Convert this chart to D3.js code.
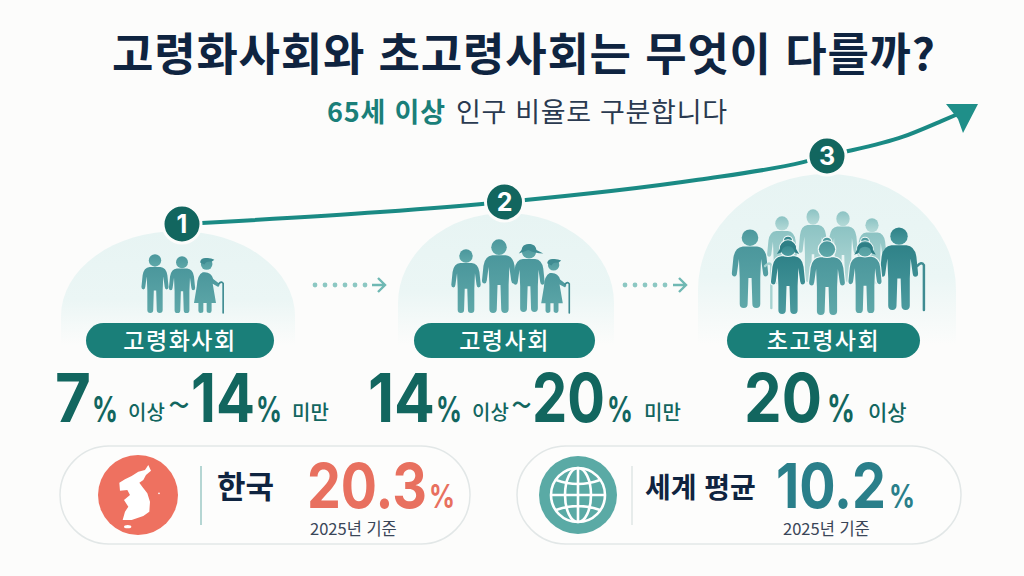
<!DOCTYPE html>
<html lang="ko">
<head>
<meta charset="utf-8">
<script src="https://cdn.jsdelivr.net/npm/d3@7/dist/d3.min.js"></script>
<style>
html, body { margin: 0; padding: 0; background: #fcfcfb; }
svg { display: block; }
text { font-family: "Noto Sans CJK KR", "Noto Sans", sans-serif; }
text.num { font-family: Inter, "Noto Sans", sans-serif; }
</style>
</head>
<body>
<div id="chart"></div>
<script>
// data
const stageNames = ['고령화사회', '고령사회', '초고령사회'];
const stageLower = [7, 14, 20];
const stageUpper = [14, 20, null];
const regionNames = ['한국', '세계 평균'];
const regionValues = [20.3, 10.2];
const baseYears = [2025, 2025];
const trendStage = [0, 0.614, 1, 1.6, 1.926, 2, 2.236, 2.36, 2.406];
const trendLevel = [7, 10.8, 14, 16.9, 19.2, 20, 22.6, 24.8, 25.65];

const navy = '#0f2440', teal = '#1a7f79', deep = '#12665f';

const svg = d3.select('#chart').append('svg').attr('width', 1024).attr('height', 576);
svg.append('rect').attr('width', 1024).attr('height', 576).attr('fill', '#fcfcfb');

// Escalas
const xStage = d3.scaleLinear().domain([0, 2]).range([182, 827]);
const yLevel = d3.scaleLinear().domain([7, 14, 20, 27]).range([224, 202, 156, 104]);

// squeeze a text to a given width so its box really ends there
function fitText(t, x, y, len) {
    const natural = t.node().getComputedTextLength();
    t.attr('transform', `translate(${x},${y}) scale(${len / natural},1)`);
}

const defs = svg.append('defs');
const domeGrad = defs.append('linearGradient').attr('id', 'dome').attr('x1', 0).attr('x2', 0).attr('y1', 0).attr('y2', 1);
domeGrad.append('stop').attr('offset', '0%').attr('stop-color', '#e7f4f3');
domeGrad.append('stop').attr('offset', '60%').attr('stop-color', '#ebf6f5');
domeGrad.append('stop').attr('offset', '100%').attr('stop-color', '#fcfcfb');
[['fig', '#4b979c', '#5fa8a9'], ['figDark', '#2f8288', '#4a9a9e'], ['figBack', '#8cc3c3', '#b5dad8']].forEach(c => {
    const g = defs.append('linearGradient').attr('id', c[0]).attr('x1', 0).attr('x2', 0).attr('y1', 0).attr('y2', 1);
    g.append('stop').attr('offset', '0%').attr('stop-color', c[1]);
    g.append('stop').attr('offset', '100%').attr('stop-color', c[2]);
});

// Title
svg.append('text').attr('x', 112).attr('y', 71)
    .attr('font-size', 45).attr('font-weight', 700).attr('fill', navy)
    .attr('textLength', 823).text('고령화사회와 초고령사회는 무엇이 다를까?');
svg.append('text').attr('x', 327).attr('y', 122).attr('font-size', 27).attr('font-weight', 700)
    .attr('fill', teal).attr('textLength', 118).text('65세 이상');
svg.append('text').attr('x', 456).attr('y', 122).attr('font-size', 27).attr('fill', '#2a3a50')
    .attr('textLength', 271).text('인구 비율로 구분합니다');

// Domes
const domes = [
    {x0: 61, x1: 295, top: 231, edge: 316, bottom: 345},
    {x0: 398, x1: 614, top: 213, edge: 303, bottom: 345},
    {x0: 698, x1: 956, top: 174, edge: 290, bottom: 345}
];
svg.selectAll('.dome').data(domes).enter().append('path')
    .attr('class', 'dome')
    .attr('fill', 'url(#dome)')
    .attr('d', d => {
        const rx = (d.x1 - d.x0) / 2, ry = d.edge - d.top;
        return `M${d.x0},${d.bottom} V${d.edge} A${rx},${ry} 0 0 1 ${d.x1},${d.edge} V${d.bottom} Z`;
    });

// Trend line
const trendLine = d3.line()
    .x((d, i) => xStage(d))
    .y((d, i) => yLevel(trendLevel[i]))
    .curve(d3.curveMonotoneX);
svg.append('path').attr('d', trendLine(trendStage)).attr('fill', 'none')
    .attr('stroke', '#1a8a84').attr('stroke-width', 4);
svg.append('path').attr('d', 'M978,104 L946,104 L958,119 L963,133 Z').attr('fill', '#1f8f89');

// Figures
const manPath = 'M-9 22 H9 Q19 23 21 36 L23 56 Q23 60 19.5 60 Q17 60 16.5 56 L14 38 L13 62 L13 95 Q13 100 8 100 Q3 100 3 95 L2 62 H-2 L-3 95 Q-3 100 -8 100 Q-13 100 -13 95 L-13 62 L-14 38 L-16.5 56 Q-17 60 -19.5 60 Q-23 60 -23 56 L-21 36 Q-19 23 -9 22 Z';
const womanPath = 'M-4 26 Q11 24 15 38 L25 46 Q28 49 25 52 Q23 53 21 51 L14 47 L20 82 H-20 L-15 52 Q-14 30 -4 26 Z M-12 82 H-3 L-3 96 Q-3 100 -8 100 Q-12 100 -12 96 Z M3 82 H12 L12 96 Q12 100 8 100 Q3 100 3 96 Z';

function drawFigure(d) {
    const s = (d.feet - d.top) / 100;
    const g = svg.append('g')
        .attr('transform', `translate(${d.x},${d.top}) scale(${s * (d.wide || 1)},${s})`)
        .attr('fill', `url(#${d.tone || 'fig'})`);
    if (d.halo) g.attr('stroke', '#f1f8f7').attr('stroke-width', 3).style('paint-order', 'stroke');
    if (d.kind === 'bun') g.append('circle').attr('cx', 0).attr('cy', 1).attr('r', 5.5);
    g.append('path').attr('d', d.kind === 'bent' ? womanPath : manPath);
    g.append('circle').attr('cx', d.kind === 'bent' ? 3 : 0).attr('cy', 11).attr('r', 10.5);
    if (d.kind === 'bent') {
        g.append('path').attr('d', 'M-9 8 Q-8 -1 4 0 Q12 0 17 3 L12 7 Q2 5 -1 12 Z').attr('fill', '#3f8c92');
    }
    if (d.kind === 'hat') {
        g.append('path').attr('d', 'M-11 9 Q-10 -1 2 0 Q10 1 11 9 L21 14 Q8 14 -1 9 L-15 14 Z').attr('fill', '#3f8c92');
    }
    if (d.hair) {
        g.append('path').attr('d', 'M-11 12 Q-11 2 0 2 Q11 2 11 12 L15 19 L9 17 Q8 8 0 8 Q-8 8 -9 17 L-15 19 Z')
            .attr('fill', '#2f7f86').attr('stroke', 'none');
    }
    if (d.cane) {
        g.append('path').attr('d', `M${d.cane - 5} 47 Q${d.cane} 41 ${d.cane + 3} 46 V100`)
            .attr('fill', 'none').attr('stroke', d.caneColor || '#3f8c92')
            .attr('stroke-width', 3).attr('stroke-linecap', 'round');
    }
}

const figures = [
    {x: 155, top: 254, feet: 313},
    {x: 182, top: 256, feet: 313},
    {x: 205, top: 258, feet: 313, kind: 'bent', cane: 30},
    {x: 466, top: 249, feet: 313},
    {x: 499, top: 239, feet: 313},
    {x: 529, top: 244, feet: 312, kind: 'hat'},
    {x: 552, top: 259, feet: 313, kind: 'bent', cane: 29},
    {x: 782, top: 216, feet: 284, tone: 'figBack', wide: 0.95},
    {x: 872, top: 218, feet: 284, tone: 'figBack', wide: 0.95},
    {x: 813, top: 209, feet: 282, tone: 'figBack', wide: 0.85},
    {x: 843, top: 211, feet: 282, tone: 'figBack', wide: 0.9},
    {x: 750, top: 229, feet: 308, cane: 24, caneColor: '#a5d2d0'},
    {x: 899, top: 227, feet: 310, tone: 'figDark', cane: 27},
    {x: 788, top: 240, feet: 314, kind: 'bun', hair: true, tone: 'figDark', halo: true},
    {x: 827, top: 241, feet: 315, kind: 'bun', halo: true, wide: 1.05},
    {x: 865, top: 241, feet: 313, kind: 'bun', hair: true, halo: true}
];
figures.forEach(drawFigure);

// Number badges
const badge = svg.selectAll('.badge').data(stageNames).enter().append('g').attr('class', 'badge')
    .attr('transform', (d, i) => `translate(${xStage(i)},${yLevel(stageLower[i])})`);
badge.append('circle').attr('r', 19).attr('fill', deep).attr('stroke', '#fcfcfb').attr('stroke-width', 3);
badge.append('text').attr('class', 'num').attr('text-anchor', 'middle').attr('y', 9).attr('font-size', 25)
    .attr('font-weight', 700).attr('fill', '#fff').text((d, i) => i + 1);

// Dotted arrows
[[315, 385], [625, 686]].forEach(a => {
    svg.append('g').selectAll('circle').data(d3.range(a[0], a[1] - 17, 10)).enter().append('circle')
        .attr('cx', d => d).attr('cy', 285).attr('r', 2.4).attr('fill', '#8cc8c3');
    svg.append('path').attr('d', `M${a[1] - 13},285 H${a[1]} M${a[1] - 7},278 L${a[1]},285 L${a[1] - 7},292`)
        .attr('fill', 'none').attr('stroke', '#6fb8b3').attr('stroke-width', 2.4);
});

// Pills
const pills = [[86, 274], [414, 595], [727, 920]];
stageNames.forEach((name, i) => {
    const p = pills[i];
    svg.append('rect').attr('x', p[0]).attr('y', 323).attr('width', p[1] - p[0]).attr('height', 35)
        .attr('rx', 17.5).attr('fill', teal);
    svg.append('text').attr('x', (p[0] + p[1]) / 2).attr('y', 349).attr('text-anchor', 'middle')
        .attr('font-size', 23).attr('font-weight', 500).attr('letter-spacing', 1.5).attr('fill', '#fff').text(name);
});

// Thresholds
function part(x, str, size, weight, len, isNum) {
    const y = isNum ? 422 : 420;
    const t = svg.append('text').attr('class', isNum ? 'num' : null).attr('font-size', size)
        .attr('font-weight', weight).attr('fill', deep).text(str);
    if (len) fitText(t, x, y, len);
    else t.attr('x', x).attr('y', y);
}
const big = 68, pct = 36, small = 20;
part(55, stageLower[0], big, 700, 36, true);
part(92, '%', pct, 700, 26, true);
part(128, '이상', small, 500);
part(168, '~', 40, 400, 22);
part(191, stageUpper[0], big, 700, 64, true);
part(256, '%', pct, 700, 26, true);
part(292, '미만', small, 500);
part(368, stageLower[1], big, 700, 67, true);
part(436, '%', pct, 700, 26, true);
part(472, '이상', small, 500);
part(511, '~', 40, 400, 21);
part(532, stageUpper[1], big, 700, 73, true);
part(607, '%', pct, 700, 26, true);
part(644, '미만', small, 500);
part(744, stageLower[2], big, 700, 78, true);
part(827, '%', 38, 700, 28, true);
part(868, '이상', 21, 500);

// Bottom cards
const cards = [
    {x0: 60, x1: 470, cx: 138, r: 40, fill: '#ee7160', div: 201, divColor: '#9cc9c6', nameX: 217, nameSize: 31, valX: 307, valColor: '#e8705f', pctX: 429, yearX: 310},
    {x0: 517, x1: 961, cx: 578, r: 39, fill: '#5aaaa5', div: 632, divColor: '#dfe6e6', nameX: 645, nameSize: 28, valX: 776, valColor: '#2a7f8a', pctX: 889, yearX: 783}
];
const valWidths = [120, 110];
cards.forEach((c, i) => {
    svg.append('rect').attr('x', c.x0).attr('y', 446).attr('width', c.x1 - c.x0).attr('height', 98)
        .attr('rx', 49).attr('fill', '#fdfdfc').attr('stroke', '#e2e7e7').attr('stroke-width', 1.5);
    svg.append('circle').attr('cx', c.cx).attr('cy', 495).attr('r', c.r).attr('fill', c.fill);
    svg.append('line').attr('x1', c.div).attr('x2', c.div).attr('y1', 466).attr('y2', 525)
        .attr('stroke', c.divColor).attr('stroke-width', 1.5);
    svg.append('text').attr('x', c.nameX).attr('y', 498).attr('font-size', c.nameSize)
        .attr('font-weight', 700).attr('fill', navy).text(regionNames[i]);
    const val = svg.append('text').attr('class', 'num').attr('font-size', 62).attr('font-weight', 700)
        .attr('fill', c.valColor).text(regionValues[i].toFixed(1));
    fitText(val, c.valX, 508, valWidths[i]);
    const sign = svg.append('text').attr('class', 'num').attr('font-size', 32).attr('font-weight', 700)
        .attr('fill', c.valColor).text('%');
    fitText(sign, c.pctX, 508, 26);
    svg.append('text').attr('x', c.yearX).attr('y', 535).attr('font-size', 16.5).attr('fill', '#3a4658')
        .text(baseYears[i] + '년 기준');
});

// Korea icon
const korea = svg.append('g').attr('transform', 'translate(50,440) scale(0.3333)').attr('fill', '#fff');
korea.append('path').attr('d', 'M295 75 L303 92 L288 105 L280 120 L268 128 L278 142 L292 160 L300 185 L298 215 L280 228 L245 240 L218 240 L225 215 L235 200 L222 180 L240 165 L232 150 L210 152 L208 128 L225 118 L245 108 L265 95 L285 90 Z');
korea.append('ellipse').attr('cx', 233).attr('cy', 260).attr('rx', 11).attr('ry', 5);
korea.append('circle').attr('cx', 327).attr('cy', 160).attr('r', 2.5);

// Globe icon
const globe = svg.append('g').attr('transform', 'translate(578,495)').attr('fill', 'none')
    .attr('stroke', '#fff').attr('stroke-width', 2.6);
globe.append('circle').attr('r', 27);
globe.append('ellipse').attr('rx', 13).attr('ry', 27);
globe.append('path').attr('d', 'M0,-27 V27 M-27,0 H27 M-22,-15 Q0,-7 22,-15 M-22,15 Q0,7 22,15');
</script>
</body>
</html>
